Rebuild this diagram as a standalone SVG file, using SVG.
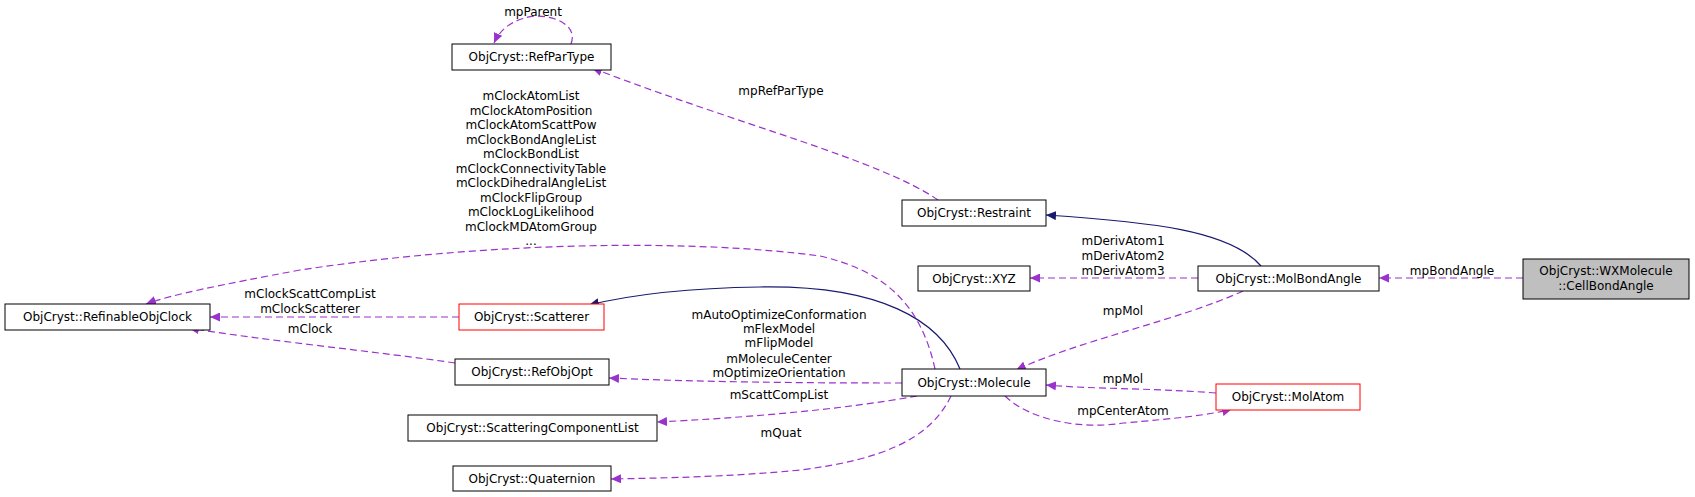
<svg xmlns="http://www.w3.org/2000/svg" width="1695" height="497" viewBox="0 0 1695 497">
<style>
text{font-family:"DejaVu Sans",sans-serif;font-size:12px;text-anchor:middle;fill:#000}
.n rect{fill:#fff;stroke:#000;stroke-width:1}
.r rect{stroke:#f00}
.g rect{fill:#bfbfbf}
.d{fill:none;stroke:#9a32cd;stroke-dasharray:7,4;stroke-width:1.2}
.s{fill:none;stroke:#191970;stroke-width:1.2}
</style>
<defs>
<marker id="ap" markerWidth="11" markerHeight="9" refX="10" refY="4.5" orient="auto" markerUnits="userSpaceOnUse"><path d="M0,0L10,4.5L0,9z" fill="#9a32cd"/></marker>
<marker id="an" markerWidth="11" markerHeight="9" refX="10" refY="4.5" orient="auto" markerUnits="userSpaceOnUse"><path d="M0,0L10,4.5L0,9z" fill="#191970"/></marker>
</defs>
<g id="edges">
<path class="d" marker-end="url(#ap)" d="M571,44C580,20 540,12 525,18C510,22 500,30 494,43"/>
<text x="533" y="16">mpParent</text>
<path class="d" marker-end="url(#ap)" d="M938,200C880,160 740,125 592,68"/>
<text x="781" y="95">mpRefParType</text>
<path class="s" marker-end="url(#an)" d="M1261,266C1230,230 1150,222 1046,215"/>
<path class="d" marker-end="url(#ap)" d="M1198,278L1030,278"/>
<text x="1123" y="245">mDerivAtom1</text>
<text x="1123" y="260">mDerivAtom2</text>
<text x="1123" y="275">mDerivAtom3</text>
<path class="d" marker-end="url(#ap)" d="M1523,278L1379,278"/>
<text x="1452" y="275">mpBondAngle</text>
<path class="d" marker-end="url(#ap)" d="M1243,291C1180,320 1080,340 1016,370"/>
<text x="1123" y="315">mpMol</text>
<path class="d" marker-end="url(#ap)" d="M1216,393C1150,388 1090,389 1046,385"/>
<text x="1123" y="383">mpMol</text>
<path class="d" marker-end="url(#ap)" d="M1005,396C1030,420 1080,430 1124,423C1180,418 1210,415 1232,409"/>
<text x="1123" y="415">mpCenterAtom</text>
<path class="s" marker-end="url(#an)" d="M960,369C940,320 880,285 760,287C690,288 630,295 589,305"/>
<path class="d" marker-end="url(#ap)" d="M935,369C920,300 880,270 820,256C700,240 500,240 300,270C220,285 170,295 146,304"/>
<text x="531" y="100">mClockAtomList</text>
<text x="531" y="114.5">mClockAtomPosition</text>
<text x="531" y="129">mClockAtomScattPow</text>
<text x="531" y="143.5">mClockBondAngleList</text>
<text x="531" y="158">mClockBondList</text>
<text x="531" y="172.5">mClockConnectivityTable</text>
<text x="531" y="187">mClockDihedralAngleList</text>
<text x="531" y="201.5">mClockFlipGroup</text>
<text x="531" y="216">mClockLogLikelihood</text>
<text x="531" y="230.5">mClockMDAtomGroup</text>
<text x="531" y="245">...</text>
<path class="d" marker-end="url(#ap)" d="M459,317L210,317"/>
<text x="310" y="298">mClockScattCompList</text>
<text x="310" y="313">mClockScatterer</text>
<path class="d" marker-end="url(#ap)" d="M455,363C380,352 260,340 189,328"/>
<text x="310" y="333">mClock</text>
<path class="d" marker-end="url(#ap)" d="M902,383C800,383 700,382 609,378"/>
<text x="779" y="319">mAutoOptimizeConformation</text>
<text x="779" y="333">mFlexModel</text>
<text x="779" y="347">mFlipModel</text>
<text x="779" y="363">mMoleculeCenter</text>
<text x="779" y="377">mOptimizeOrientation</text>
<path class="d" marker-end="url(#ap)" d="M917,396C840,410 740,418 657,422"/>
<text x="779" y="399">mScattCompList</text>
<path class="d" marker-end="url(#ap)" d="M951,396C930,440 880,460 800,470C730,477 660,478 611,479"/>
<text x="781" y="437">mQuat</text>
</g>
<g id="RefParType" class="n"><rect x="452" y="44" width="159" height="26"/><text x="531.5" y="61">ObjCryst::RefParType</text></g>
<g id="Restraint" class="n"><rect x="902" y="200" width="144" height="26"/><text x="974" y="217">ObjCryst::Restraint</text></g>
<g id="XYZ" class="n"><rect x="918" y="266" width="112" height="25"/><text x="974" y="283">ObjCryst::XYZ</text></g>
<g id="MolBondAngle" class="n"><rect x="1198" y="266" width="181" height="25"/><text x="1288.5" y="283">ObjCryst::MolBondAngle</text></g>
<g id="CellBondAngle" class="n g"><rect x="1523" y="259" width="166" height="40"/><text x="1606" y="275">ObjCryst::WXMolecule</text><text x="1606" y="290">::CellBondAngle</text></g>
<g id="RefinableObjClock" class="n"><rect x="5" y="304" width="205" height="26"/><text x="107.5" y="321">ObjCryst::RefinableObjClock</text></g>
<g id="Scatterer" class="n r"><rect x="459" y="304" width="145" height="26"/><text x="531.5" y="321">ObjCryst::Scatterer</text></g>
<g id="RefObjOpt" class="n"><rect x="455" y="359" width="154" height="26"/><text x="532" y="376">ObjCryst::RefObjOpt</text></g>
<g id="Molecule" class="n"><rect x="902" y="369" width="144" height="27"/><text x="974" y="387">ObjCryst::Molecule</text></g>
<g id="MolAtom" class="n r"><rect x="1216" y="384" width="144" height="26"/><text x="1288" y="401">ObjCryst::MolAtom</text></g>
<g id="ScatteringComponentList" class="n"><rect x="408" y="415" width="249" height="26"/><text x="532.5" y="432">ObjCryst::ScatteringComponentList</text></g>
<g id="Quaternion" class="n"><rect x="453" y="466" width="158" height="25"/><text x="532" y="483">ObjCryst::Quaternion</text></g>
</svg>
